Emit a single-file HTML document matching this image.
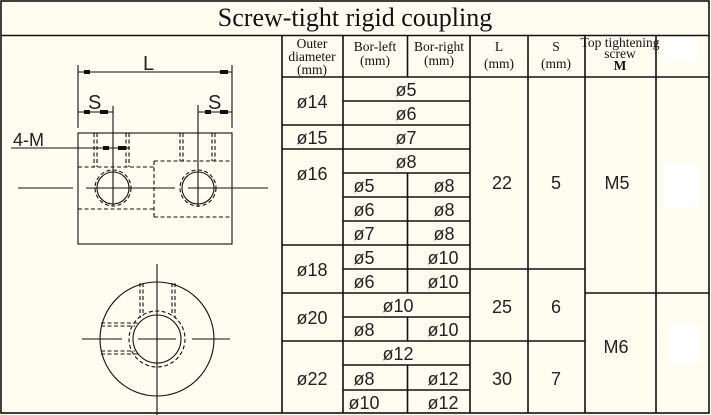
<!DOCTYPE html>
<html><head><meta charset="utf-8"><style>
html,body{margin:0;padding:0;background:#fffcf0;}
svg{display:block;}
.t{font-family:"Liberation Sans",sans-serif;font-size:18px;fill:#222;text-anchor:middle;}
.h{font-family:"Liberation Serif",serif;font-size:13.5px;fill:#111;text-anchor:middle;}
</style></head><body>
<svg width="711" height="415" viewBox="0 0 711 415" xmlns="http://www.w3.org/2000/svg">
<rect x="0" y="0" width="711" height="415" fill="#fffcf0"/>
<rect x="664" y="39" width="33" height="22" fill="#fff"/>
<rect x="663" y="164" width="35" height="43" fill="#fff"/>
<rect x="668" y="325" width="32" height="38" fill="#fff"/>
<g stroke="#111" stroke-width="1.6" fill="none">
<rect x="1" y="1" width="708" height="412"/>
<line x1="1" y1="35.5" x2="709" y2="35.5"/>
<line x1="282" y1="35" x2="282" y2="413"/>
<line x1="343" y1="35" x2="343" y2="413"/>
<line x1="470" y1="35" x2="470" y2="413"/>
<line x1="528" y1="35" x2="528" y2="413"/>
<line x1="585" y1="35" x2="585" y2="413"/>
<line x1="656" y1="35" x2="656" y2="413"/>
<line x1="407.5" y1="35" x2="407.5" y2="77"/>
<line x1="407.5" y1="173" x2="407.5" y2="293"/>
<line x1="407.5" y1="317" x2="407.5" y2="341"/>
<line x1="407.5" y1="365" x2="407.5" y2="413"/>
<line x1="282" y1="77" x2="709" y2="77"/>
<line x1="343" y1="101" x2="470" y2="101"/>
<line x1="282" y1="125" x2="470" y2="125"/>
<line x1="282" y1="149" x2="470" y2="149"/>
<line x1="343" y1="173" x2="470" y2="173"/>
<line x1="343" y1="197" x2="470" y2="197"/>
<line x1="343" y1="221" x2="470" y2="221"/>
<line x1="282" y1="245" x2="470" y2="245"/>
<line x1="343" y1="269" x2="470" y2="269"/>
<line x1="470" y1="269" x2="585" y2="269"/>
<line x1="282" y1="293" x2="470" y2="293"/>
<line x1="585" y1="293" x2="709" y2="293"/>
<line x1="343" y1="317" x2="470" y2="317"/>
<line x1="282" y1="341" x2="585" y2="341"/>
<line x1="343" y1="365" x2="470" y2="365"/>
<line x1="343" y1="390" x2="470" y2="390"/>
</g>
<text x="355" y="26" font-family="Liberation Serif,serif" font-size="26" fill="#111" text-anchor="middle">Screw-tight rigid coupling</text>
<text class="h" x="312" y="48">Outer</text>
<text class="h" x="312" y="61">diameter</text>
<text class="h" x="312" y="74">(mm)</text>
<text class="h" x="375" y="51">Bor-left</text>
<text class="h" x="375" y="65">(mm)</text>
<text class="h" x="439" y="51">Bor-right</text>
<text class="h" x="439" y="65">(mm)</text>
<text class="h" x="499" y="51" font-family="Liberation Mono,monospace" font-size="14">L</text>
<text class="h" x="499" y="68" font-family="Liberation Sans,sans-serif" font-size="14">(mm)</text>
<text class="h" x="556" y="51" font-family="Liberation Mono,monospace" font-size="14">S</text>
<text class="h" x="556" y="68" font-family="Liberation Sans,sans-serif" font-size="14">(mm)</text>
<text class="h" x="620" y="47" font-size="10.5">Top tightening</text>
<text class="h" x="620" y="58" font-size="10.5">screw</text>
<text class="h" x="620" y="70" font-size="10.5" font-weight="bold">M</text>
<text class="t" x="312" y="108">ø14</text>
<text class="t" x="406" y="96">ø5</text>
<text class="t" x="406" y="120">ø6</text>
<text class="t" x="312" y="144">ø15</text>
<text class="t" x="406" y="144">ø7</text>
<text class="t" x="312" y="180">ø16</text>
<text class="t" x="406" y="168">ø8</text>
<text class="t" x="364" y="192">ø5</text><text class="t" x="444" y="192">ø8</text>
<text class="t" x="364" y="216">ø6</text><text class="t" x="444" y="216">ø8</text>
<text class="t" x="364" y="240">ø7</text><text class="t" x="444" y="240">ø8</text>
<text class="t" x="312" y="276">ø18</text>
<text class="t" x="364" y="264">ø5</text><text class="t" x="443" y="264">ø10</text>
<text class="t" x="364" y="288">ø6</text><text class="t" x="443" y="288">ø10</text>
<text class="t" x="312" y="324">ø20</text>
<text class="t" x="398" y="312">ø10</text>
<text class="t" x="364" y="336">ø8</text><text class="t" x="443" y="336">ø10</text>
<text class="t" x="312" y="385">ø22</text>
<text class="t" x="398" y="360">ø12</text>
<text class="t" x="364" y="385">ø8</text><text class="t" x="443" y="385">ø12</text>
<text class="t" x="364" y="409">ø10</text><text class="t" x="443" y="409">ø12</text>
<text class="t" x="502" y="189">22</text>
<text class="t" x="556" y="189">5</text>
<text class="t" x="617" y="189">M5</text>
<text class="t" x="502" y="313">25</text>
<text class="t" x="556" y="313">6</text>
<text class="t" x="616" y="353">M6</text>
<text class="t" x="502" y="385">30</text>
<text class="t" x="556" y="385">7</text>
<g stroke="#111" stroke-width="1.1" fill="none">
<rect x="78" y="133" width="154" height="111"/>
<line x1="78" y1="65" x2="78" y2="128"/>
<line x1="232" y1="65" x2="232" y2="128"/>
<line x1="78" y1="72" x2="232" y2="72"/>
<line x1="78" y1="112" x2="113" y2="112"/>
<line x1="198" y1="112" x2="232" y2="112"/>
<line x1="11" y1="148" x2="130" y2="148"/>
<line x1="113" y1="106" x2="113" y2="206"/>
<line x1="198" y1="105" x2="198" y2="207"/>
<line x1="18" y1="188" x2="73" y2="188"/>
<line x1="86" y1="188" x2="175" y2="188"/>
<line x1="188" y1="188" x2="268" y2="188"/>
<circle cx="113" cy="188" r="16"/>
<circle cx="198" cy="188" r="16"/>
<g stroke-dasharray="4,2.5">
<circle cx="113" cy="188" r="18"/>
<circle cx="198" cy="188" r="18"/>
<line x1="78" y1="167" x2="154" y2="167"/>
<line x1="154" y1="161" x2="232" y2="161"/>
<line x1="154" y1="161" x2="154" y2="217"/>
<line x1="78" y1="209" x2="154" y2="209"/>
<line x1="154" y1="217" x2="232" y2="217"/>
<line x1="94" y1="133" x2="94" y2="167"/><line x1="97" y1="133" x2="97" y2="167"/>
<line x1="126" y1="133" x2="126" y2="167"/><line x1="129" y1="133" x2="129" y2="167"/>
<line x1="180" y1="133" x2="180" y2="161"/><line x1="183" y1="133" x2="183" y2="161"/>
<line x1="212" y1="133" x2="212" y2="161"/><line x1="215" y1="133" x2="215" y2="161"/>
</g>
<circle cx="157" cy="339" r="57"/>
<circle cx="157" cy="339" r="24"/>
<line x1="157" y1="264" x2="157" y2="415"/>
<line x1="82" y1="339" x2="122" y2="339"/>
<line x1="138" y1="339" x2="176" y2="339"/>
<line x1="192" y1="339" x2="230" y2="339"/>
<g stroke-dasharray="4,2.5">
<circle cx="157" cy="339" r="28"/>
<line x1="140" y1="283" x2="140" y2="318"/><line x1="143" y1="283" x2="143" y2="316"/>
<line x1="172" y1="283" x2="172" y2="316"/><line x1="175" y1="283" x2="175" y2="318"/>
<line x1="101" y1="323" x2="138" y2="323"/><line x1="101" y1="326" x2="135" y2="326"/>
<line x1="101" y1="351" x2="135" y2="351"/><line x1="101" y1="354" x2="138" y2="354"/>
</g>
</g>
<g fill="#111">
<rect x="84" y="70" width="6" height="4"/><rect x="220" y="70" width="8" height="4"/>
<rect x="84" y="110" width="6" height="4"/><rect x="100" y="110" width="8" height="4"/>
<rect x="205" y="110" width="6" height="4"/><rect x="220" y="110" width="8" height="4"/>
<rect x="103" y="146" width="6" height="4"/><rect x="118" y="146" width="8" height="4"/>
</g>
<g font-family="Liberation Sans,sans-serif" font-size="20" fill="#222">
<text x="143" y="70">L</text>
<text x="88" y="109">S</text>
<text x="208" y="109">S</text>
<text x="13" y="146" font-size="18">4-M</text>
</g>
</svg>
</body></html>
